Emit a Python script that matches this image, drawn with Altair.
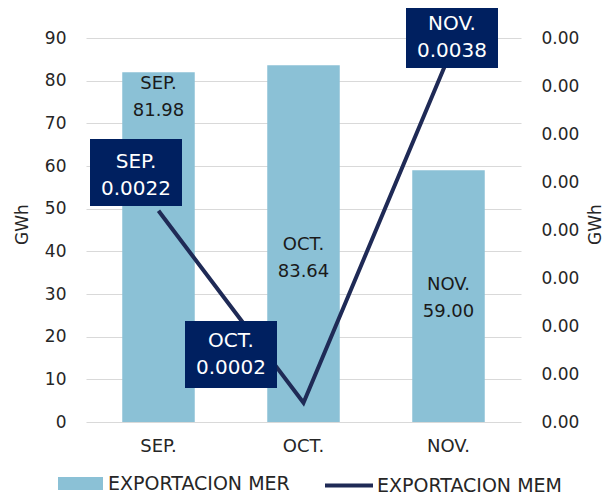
import altair as alt
import pandas as pd

months = ["SEP.", "OCT.", "NOV."]
mer = [81.98, 83.64, 59.00]
mem = [0.0022, 0.0002, 0.0038]
left_ticks = [0, 10, 20, 30, 40, 50, 60, 70, 80, 90]
right_ticks = [0, 0.0005, 0.001, 0.0015, 0.002, 0.0025, 0.003, 0.0035, 0.004]
series = ["EXPORTACION MER", "EXPORTACION MEM"]

df = pd.DataFrame({"month": months, "mer": mer, "mem": mem})
df["s1"] = series[0]
df["s2"] = series[1]

FONT = "DejaVu Sans"
BAR = "#8BC1D6"
LINE = "#1F2A56"
BOX = "#002060"

base = alt.Chart(df)

x = alt.X("month:N", sort=months,
          scale=alt.Scale(paddingInner=0.5, paddingOuter=0.25),
          axis=alt.Axis(title=None, labelAngle=0, domain=False, ticks=False,
                        labelPadding=15, labelFontSize=18, labelColor="#262626",
                        labelFont=FONT, grid=False))

yl_scale = alt.Scale(domain=[0, 90], nice=False)
yr_scale = alt.Scale(domain=[0, 0.004], nice=False)

bars = base.mark_bar().encode(
    x=x,
    y=alt.Y("mer:Q", scale=yl_scale,
            axis=alt.Axis(values=left_ticks, title="GWh", domain=False, ticks=False,
                          labelPadding=20, labelFontSize=17, labelColor="#262626",
                          labelFont=FONT, gridColor="#D9D9D9", gridWidth=1,
                          titleFont=FONT, titleFontSize=17, titleFontWeight="normal",
                          titleColor="#262626", titleAngle=270, titleX=-64, titleY=186,
                          titleBaseline="middle")),
    color=alt.Color("s1:N", scale=alt.Scale(domain=[series[0]], range=[BAR]),
                    legend=alt.Legend(title=None, orient="none", legendX=-28, legendY=423,
                                      symbolType="M-1,-0.29H1V0.29H-1Z", symbolSize=2025,
                                      symbolStrokeWidth=0, symbolOpacity=1,
                                      labelFont=FONT, labelFontSize=19, labelColor="#262626",
                                      labelOffset=5, labelLimit=400)),
)

bar_dy = {"SEP.": 11.5, "OCT.": 180, "NOV.": 115}
bar_labels = []
for m in months:
    bar_labels.append(
        base.transform_filter(alt.datum.month == m)
        .transform_calculate(lab="datum.month + '\\n' + format(datum.mer, '.2f')")
        .mark_text(lineBreak="\n", font=FONT, fontSize=18, color="#1a1a1a",
                   baseline="middle", lineHeight=27, dy=bar_dy[m])
        .encode(x=x, y=alt.Y("mer:Q", scale=yl_scale), text="lab:N")
    )

left = alt.layer(bars, *bar_labels)

line = base.mark_line(strokeWidth=4, color=LINE).encode(
    x=x,
    y=alt.Y("mem:Q", scale=yr_scale,
            axis=alt.Axis(values=right_ticks, format=".2f", title="GWh", orient="right",
                          domain=False, ticks=False, grid=False,
                          labelPadding=20, labelFontSize=17, labelColor="#262626",
                          labelFont=FONT,
                          titleFont=FONT, titleFontSize=17, titleFontWeight="normal",
                          titleColor="#262626", titleAngle=270, titleX=74, titleY=186,
                          titleBaseline="middle")),
    stroke=alt.Stroke("s2:N", scale=alt.Scale(domain=[series[1]], range=[LINE]),
                      legend=alt.Legend(title=None, orient="none", legendX=237, legendY=421.5,
                                        symbolType="stroke", symbolSize=2304,
                                        symbolStrokeWidth=4,
                                        labelFont=FONT, labelFontSize=19, labelColor="#262626",
                                        labelOffset=2, labelLimit=400)),
)

box_off = {"SEP.": (-22.5, -38.3, -49.3), "OCT.": (-72.5, -48.3, -62.3), "NOV.": (3.5, -22.7, -33.5)}
boxes = []
texts = []
for m in months:
    dx, dy, tdy = box_off[m]
    sub = base.transform_filter(alt.datum.month == m)
    boxes.append(
        sub.mark_point(shape="M-1,-0.728H1V0.728H-1Z", size=8464, filled=True,
                       color=BOX, opacity=1, strokeWidth=0, xOffset=dx, yOffset=dy)
        .encode(x=x, y=alt.Y("mem:Q", scale=yr_scale))
    )
    texts.append(
        sub.transform_calculate(lab="datum.month + '\\n' + format(datum.mem, '.4f')")
        .mark_text(lineBreak="\n", font=FONT, fontSize=20, color="white",
                   baseline="middle", lineHeight=27, dx=dx, dy=tdy)
        .encode(x=x, y=alt.Y("mem:Q", scale=yr_scale), text="lab:N")
    )

right = alt.layer(line, *boxes, *texts)

chart = alt.layer(left, right).resolve_scale(y="independent").properties(
    width=435, height=384,
    padding={"left": 78, "top": 30, "right": 82, "bottom": 72},
    autosize=alt.AutoSizeParams(type="none"),
).configure_view(stroke=None)

chart.save("out.html", embed_options={"renderer": "svg", "actions": False})
